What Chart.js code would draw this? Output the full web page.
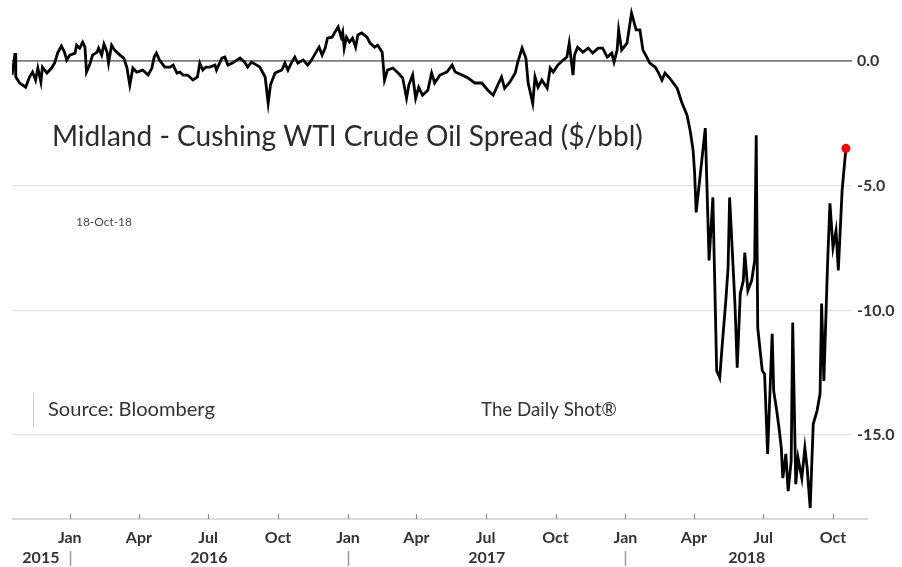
<!DOCTYPE html>
<html>
<head>
<meta charset="utf-8">
<script src="https://cdn.jsdelivr.net/npm/chart.js@4.4.1/dist/chart.umd.min.js"></script>
<style>
  html, body { margin: 0; padding: 0; background: #fff; }
  #wrap { width: 902px; height: 567px; position: relative; }
</style>
</head>
<body>
<div id="wrap"><canvas id="spreadChart"></canvas></div>
<script>
// Midland - Cushing WTI spread
// x = days counted from 1 Jan 2016 (negative = late 2015)
const dayNums = [-76,-72,-71,-66,-58,-53,-49,-45,-42,-38,-36,-30,-24,-20,-16,-11,-7,-4,0,7,9,13,17,20,22,26,30,36,38,42,45,49,51,55,59,66,71,75,79,83,88,96,103,108,111,114,118,125,132,136,141,145,149,155,162,168,171,175,179,184,191,193,200,204,208,214,224,230,234,239,246,250,257,261,264,270,279,283,287,292,296,300,307,313,318,324,328,332,336,339,345,349,353,357,359,361,364,368,372,376,379,384,391,395,401,405,411,414,418,425,432,438,443,446,451,455,459,464,471,476,480,487,496,503,507,516,524,533,542,550,557,563,568,572,579,586,589,595,600,603,609,612,616,621,628,632,636,642,649,654,657,662,664,668,675,682,688,695,701,707,713,716,720,722,726,733,739,745,750,754,759,763,770,774,779,783,789,799,805,812,816,820,822,824,836,841,846,851,855,858,863,866,868,875,878,882,886,888,892,897,901,903,905,911,914,918,924,926,930,933,936,938,942,945,949,951,955,958,963,967,970,974,978,983,987,989,992,997,1000,1004,1008,1011,1016,1018,1021];
const spread = [-0.56,0.32,-0.64,-0.88,-1.05,-0.64,-0.44,-0.76,-0.28,-0.84,-0.24,-0.48,-0.28,-0.08,0.32,0.60,0.36,0.04,0.24,0.32,0.64,0.52,0.76,0.56,-0.44,-0.16,0.24,0.36,0.52,0.24,0.68,0.36,-0.08,0.64,0.44,0.24,0.12,-0.24,-0.96,-0.28,-0.44,-0.36,-0.56,-0.28,0.16,0.32,0.04,-0.24,-0.24,-0.16,-0.48,-0.44,-0.56,-0.56,-0.76,-0.64,-0.08,-0.36,-0.24,-0.24,-0.16,-0.36,0.12,0.16,-0.16,-0.08,0.12,-0.04,-0.24,-0.04,-0.16,-0.24,-0.64,-1.69,-0.96,-0.48,-0.36,-0.08,-0.36,-0.04,0.16,-0.08,0.04,-0.16,0.04,0.36,0.56,0.24,0.52,0.92,0.96,1.17,1.37,0.96,1.17,0.52,0.96,0.76,0.92,0.56,1.05,1.13,0.96,0.72,0.56,0.64,0.36,-0.76,-0.36,-0.28,-0.48,-0.68,-1.49,-0.96,-0.56,-1.49,-1.05,-1.37,-1.17,-0.48,-0.88,-0.56,-0.44,-0.16,-0.44,-0.56,-0.68,-0.88,-0.88,-1.17,-1.37,-0.96,-0.64,-1.09,-0.84,-0.48,-0.08,0.52,0.12,-0.88,-1.69,-0.64,-1.05,-0.76,-1.09,-0.28,-0.44,-0.16,0.04,0.16,0.72,-0.56,0.24,0.56,0.36,0.52,0.32,0.52,0.52,0.16,0.32,-0.04,0.44,1.25,0.44,0.72,1.93,1.25,1.25,0.44,0.16,-0.08,-0.24,-0.44,-0.76,-0.48,-0.68,-1.09,-1.65,-2.17,-2.77,-3.58,-4.50,-6.07,-2.69,-8.00,-5.47,-12.42,-12.71,-11.50,-9.61,-8.28,-5.47,-9.73,-12.30,-9.33,-8.81,-7.68,-9.21,-8.81,-8.00,-2.98,-10.70,-12.42,-12.55,-15.76,-10.94,-13.23,-14.03,-14.72,-15.52,-16.73,-15.76,-17.25,-16.04,-10.49,-16.97,-15.92,-16.73,-15.52,-16.32,-17.93,-14.56,-14.03,-13.35,-9.73,-12.83,-8.00,-5.71,-7.48,-6.80,-8.40,-5.19,-4.50,-3.50];

// axis labels
const tickDates = ['2016-01-01','2016-04-01','2016-07-01','2016-10-01','2017-01-01','2017-04-01','2017-07-01','2017-10-01','2018-01-01','2018-04-01','2018-07-01','2018-10-01'];
const tickLabels = ['Jan','Apr','Jul','Oct','Jan','Apr','Jul','Oct','Jan','Apr','Jul','Oct'];
const yearLabels = ['2015','2016','2017','2018'];
const yearStarts = ['2015-01-01','2016-01-01','2017-01-01','2018-01-01','2019-01-01'];
const yTicks = [0, -5, -10, -15];

const TITLE = 'Midland - Cushing WTI Crude Oil Spread ($/bbl)';
const FONT = 'Lato, "Open Sans", sans-serif';

function dayOf(str) {
    const p = str.split('-').map(Number);
    return (Date.UTC(p[0], p[1] - 1, p[2]) - Date.UTC(2016, 0, 1)) / 86400000;
}

const n = Math.min(dayNums.length, spread.length);
if (dayNums.length !== spread.length) console.warn('length mismatch', dayNums.length, spread.length);
const points = [];
for (let i = 0; i < n; i++) points.push({ x: dayNums[i], y: spread[i] });

const X_MIN = -76, X_MAX = 1029, X_AXIS_END = 1050;

// kill the label overhang padding so the plot box sits where we want it
function noPad(s) {
    s.paddingTop = 0; s.paddingBottom = 0;
    s.paddingLeft = 0; s.paddingRight = 0;
}

// draw text so it fills a given width
function fitText(ctx, text, left, midY, width, weight, color) {
    ctx.font = weight + ' 20px ' + FONT;
    const size = 20 * width / ctx.measureText(text).width;
    ctx.font = weight + ' ' + size.toFixed(2) + 'px ' + FONT;
    ctx.fillStyle = color;
    ctx.textAlign = 'left';
    ctx.textBaseline = 'middle';
    ctx.fillText(text, left, midY);
}

const decor = {
    id: 'decor',
    afterDraw(chart) {
        const ctx = chart.ctx;
        const xs = chart.scales.x;
        const area = chart.chartArea;
        const axisY = area.bottom + 1;
        const x0 = xs.getPixelForValue(X_MIN);
        const x1 = xs.getPixelForValue(X_AXIS_END);
        ctx.save();

        // baseline and small quarter marks
        ctx.strokeStyle = '#cfcfcf';
        ctx.lineWidth = 1.5;
        ctx.beginPath();
        ctx.moveTo(x0, axisY); ctx.lineTo(x1, axisY);
        ctx.stroke();
        ctx.strokeStyle = '#8a8a8a';
        ctx.lineWidth = 1.2;
        tickDates.forEach(d => {
            const px = Math.round(xs.getPixelForValue(dayOf(d))) + 0.5;
            ctx.beginPath(); ctx.moveTo(px, axisY - 5); ctx.lineTo(px, axisY); ctx.stroke();
        });

        // year row
        ctx.font = 'bold 16px ' + FONT;
        ctx.fillStyle = '#333';
        ctx.textAlign = 'center';
        ctx.textBaseline = 'middle';
        yearLabels.forEach((yr, i) => {
            const a = Math.max(dayOf(yearStarts[i]), X_MIN);
            const b = Math.min(dayOf(yearStarts[i + 1]), X_AXIS_END);
            const px = (xs.getPixelForValue(a) + xs.getPixelForValue(b)) / 2;
            ctx.fillText(yr, px, 558);
        });
        ctx.strokeStyle = '#9a9a9a';
        ctx.lineWidth = 1.5;
        yearStarts.slice(1, 4).forEach(d => {
            const px = Math.round(xs.getPixelForValue(dayOf(d))) + 0.5;
            ctx.beginPath(); ctx.moveTo(px, 551); ctx.lineTo(px, 566); ctx.stroke();
        });

        // annotations
        fitText(ctx, TITLE, 52, 137, 591, 'normal', '#2b2b2b');
        fitText(ctx, '18-Oct-18', 76, 222, 56, 'normal', '#444');
        fitText(ctx, 'Source: Bloomberg', 48, 410, 167, 'normal', '#333');
        fitText(ctx, 'The Daily Shot\u00AE', 481, 410, 136, 'normal', '#333');
        ctx.strokeStyle = '#cccccc';
        ctx.lineWidth = 1;
        ctx.beginPath(); ctx.moveTo(33.5, 393); ctx.lineTo(33.5, 427); ctx.stroke();
        ctx.restore();
    }
};

const lastIdx = n - 1;

new Chart(document.getElementById('spreadChart'), {
    type: 'line',
    data: {
        datasets: [{
            data: points,
            borderColor: '#000',
            borderWidth: 2.8,
            tension: 0,
            pointRadius: c => c.dataIndex === lastIdx ? 4.5 : 0,
            pointBackgroundColor: '#ff0000',
            pointBorderColor: '#ff0000',
            pointBorderWidth: 0
        }]
    },
    options: {
        responsive: true,
        maintainAspectRatio: false,
        animation: false,
        events: [],
        layout: { padding: { left: 12, top: 5, right: 0, bottom: 0 } },
        plugins: { legend: { display: false }, tooltip: { enabled: false } },
        scales: {
            x: {
                type: 'linear',
                min: X_MIN,
                max: X_MAX,
                afterFit: s => { s.height = 49; noPad(s); },
                afterBuildTicks: s => { s.ticks = tickDates.map(d => ({ value: dayOf(d) })); },
                grid: { display: false, drawTicks: false },
                border: { display: false },
                ticks: {
                    autoSkip: false,
                    maxRotation: 0,
                    padding: 10,
                    color: '#333',
                    font: { family: FONT, size: 16, weight: 'bold' },
                    callback: (v, i) => tickLabels[i]
                }
            },
            y: {
                position: 'right',
                min: -18.33,
                max: 2.25,
                afterFit: s => { s.width = 50; noPad(s); },
                afterBuildTicks: s => { s.ticks = yTicks.map(v => ({ value: v })); },
                grid: {
                    drawTicks: false,
                    color: c => c.tick && c.tick.value === 0 ? '#7c7c7c' : '#e2e2e2',
                    lineWidth: c => c.tick && c.tick.value === 0 ? 1.8 : 1.2
                },
                border: { display: false },
                ticks: {
                    padding: 5,
                    color: '#333',
                    font: { family: FONT, size: 16, weight: 'bold' },
                    callback: v => v.toFixed(1)
                }
            }
        }
    },
    plugins: [decor]
});
</script>
</body>
</html>
